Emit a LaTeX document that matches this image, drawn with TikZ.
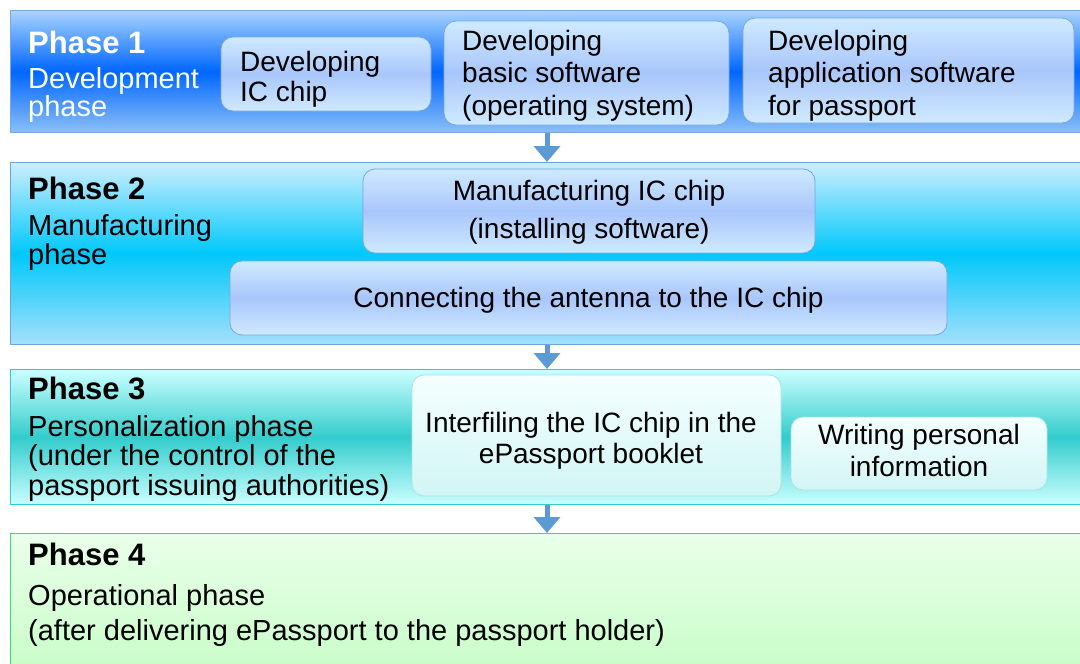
\documentclass[tikz,border=0pt]{standalone}
\usepackage{fontspec}
\setmainfont{Liberation Sans}
\usetikzlibrary{arrows.meta}
\newcommand\firstln{\rule{0pt}{25pt}}
\definecolor{bAtop}{HTML}{A8D4FF}
\definecolor{bAmid}{HTML}{0066FF}
\definecolor{bAbot}{HTML}{8CC0F8}
\definecolor{bAline}{HTML}{78A8E0}
\definecolor{bBtop}{HTML}{CDEEFE}
\definecolor{bBmid}{HTML}{00C8FA}
\definecolor{bBbot}{HTML}{A6E0FB}
\definecolor{bBline}{HTML}{6CA4DC}
\definecolor{bCtop}{HTML}{CCFFFF}
\definecolor{bCmid}{HTML}{33CCCC}
\definecolor{bCbot}{HTML}{CCFFFF}
\definecolor{bCline}{HTML}{33CCCC}
\definecolor{bDtop}{HTML}{EAFFEA}
\definecolor{bDbot}{HTML}{C8FDC8}
\definecolor{bDline}{HTML}{33DD77}
\definecolor{boxtop}{HTML}{CFEAFF}
\definecolor{boxmid}{HTML}{A9C6FB}
\definecolor{boxline}{HTML}{7AA6D8}
\definecolor{cboxtop}{HTML}{F5FFFF}
\definecolor{cboxbot}{HTML}{D2F5F5}
\definecolor{cboxline}{HTML}{A8E4E4}
\definecolor{arrowblue}{HTML}{5B9BD5}
\begin{document}
\begin{tikzpicture}[x=1pt,y=-1pt,
  band/.style={rectangle,inner sep=0pt,anchor=north west,line width=1.2pt,minimum width=1080pt},
  bluebox/.style={rectangle,rounded corners=12pt,draw=boxline,line width=0.8pt,
    top color=boxtop,bottom color=boxtop,middle color=boxmid,inner sep=0pt},
  cyanbox/.style={rectangle,rounded corners=12pt,draw=cboxline,line width=0.8pt,
    top color=cboxtop,bottom color=cboxbot,inner sep=0pt},
  ltxt/.style={inner sep=0pt,anchor=north west,align=left},
  ctxt/.style={inner sep=0pt,anchor=north,align=center},
  boxfont/.style={font=\fontsize{28}{#1}\selectfont},
  descfont/.style={font=\fontsize{29}{#1}\selectfont},
  titlefont/.style={font=\fontsize{31}{34}\selectfont\bfseries},
  flow/.style={draw=arrowblue,line width=5pt,-{Triangle[width=26pt,length=16pt]}}]
\useasboundingbox (0,0) rectangle (1080,664);

% bands
\node[band,draw=bAline,top color=bAtop,bottom color=bAbot,middle color=bAmid,minimum height=122pt] (band1) at (10,10) {};
\node[band,draw=bBline,top color=bBtop,bottom color=bBbot,middle color=bBmid,minimum height=182pt] (band2) at (10,162) {};
\node[band,draw=bCline,top color=bCtop,bottom color=bCbot,middle color=bCmid,minimum height=135pt] (band3) at (10,369) {};
\node[band,draw=bDline,top color=bDtop,bottom color=bDbot,minimum height=140pt] (band4) at (10,533) {};

% arrows
\coordinate (ax) at (547,0);
\draw[flow] (ax |- band1.south) -- (ax |- band2.north);
\draw[flow] (ax |- band2.south) -- (ax |- band3.north);
\draw[flow] (ax |- band3.south) -- (ax |- band4.north);

% phase 1
\node[ltxt,titlefont,text=white] (p1t) at (28,28) {\firstln Phase 1};
\node[ltxt,descfont=28,text=white] (p1d) at (28,63) {\firstln Development\\phase};
\node[bluebox,minimum width=210pt,minimum height=74pt] (b1) at (326,74) {};
\node[ltxt,boxfont=30] (b1t) at (240,46) {\firstln Developing\\IC chip};
\node[bluebox,minimum width=285pt,minimum height=104pt] (b2) at (586.5,73) {};
\node[ltxt,boxfont=32.5] (b2t) at (462,25) {\firstln Developing\\basic software\\(operating system)};
\node[bluebox,minimum width=331pt,minimum height=105pt] (b3) at (908.5,70.5) {};
\node[ltxt,boxfont=32.5] (b3t) at (768,25) {\firstln Developing\\application software\\for passport};

% phase 2
\node[ltxt,titlefont] (p2t) at (28,174) {\firstln Phase 2};
\node[ltxt,descfont=29.5] (p2d) at (28,210) {\firstln Manufacturing\\phase};
\node[bluebox,minimum width=452pt,minimum height=84pt] (b4) at (589,211) {};
\node[ctxt,boxfont=38] (b4t) at (589,175) {\firstln Manufacturing IC chip\\(installing software)};
\node[bluebox,minimum width=717pt,minimum height=74pt] (b5) at (588.5,298) {};
\node[ctxt,boxfont=33] (b5t) at (588.5,282) {\firstln Connecting the antenna to the IC chip};

% phase 3
\node[ltxt,titlefont] (p3t) at (28,374) {\firstln Phase 3};
\node[ltxt,descfont=29.5] (p3d) at (28,411) {\firstln Personalization phase\\(under the control of the\\passport issuing authorities)};
\node[cyanbox,minimum width=369pt,minimum height=121pt] (b6) at (596.5,435.5) {};
\node[ctxt,boxfont=31] (b6t) at (591,407) {\firstln Interfiling the IC chip in the\\ePassport booklet};
\node[cyanbox,minimum width=256pt,minimum height=73pt] (b7) at (919,453.5) {};
\node[ctxt,boxfont=32] (b7t) at (919,419) {\firstln Writing personal\\information};

% phase 4
\node[ltxt,titlefont] (p4t) at (28,540) {\firstln Phase 4};
\node[ltxt,descfont=35] (p4d) at (28,580) {\firstln Operational phase\\(after delivering ePassport to the passport holder)};
\end{tikzpicture}
\end{document}
